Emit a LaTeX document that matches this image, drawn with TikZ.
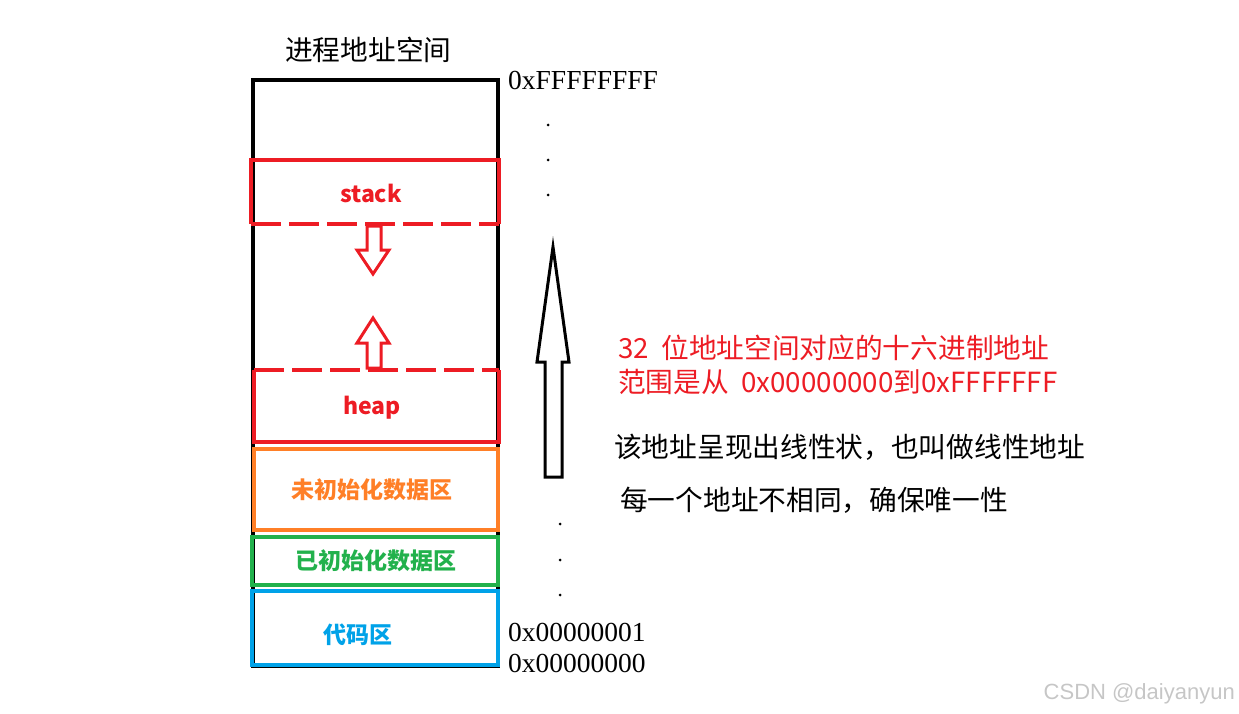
\documentclass[tikz,border=0pt]{standalone}
\usepackage{fontspec}
\setmainfont{Liberation Serif}
\setsansfont{Liberation Sans}
\newfontfamily\cjk{Noto Sans CJK SC}
\usetikzlibrary{positioning}

\definecolor{stackred}{HTML}{ED1C24}
\definecolor{bssorange}{HTML}{FF7F27}
\definecolor{datagreen}{HTML}{22B14C}
\definecolor{codeblue}{HTML}{00A2E8}

\tikzset{
  seg/.style={line width=4.5pt, line join=miter},
  segdash/.style={seg, dash pattern=on 30pt off 8pt},
  lbl/.style={inner sep=0pt, font=\cjk\bfseries\fontsize{23}{27}\selectfont},
  txt/.style={inner sep=0pt, anchor=west, font=\cjk\fontsize{27.7}{34}\selectfont},
  addr/.style={inner sep=0pt, anchor=west, font=\fontsize{27.5}{30}\selectfont},
  blockarrow/.style={line width=3pt, line join=miter},
}

\begin{document}
\begin{tikzpicture}[x=1pt,y=-1pt]
	\useasboundingbox (0,0) rectangle (1239,714);
	% outer address space
	\draw[seg] (253,80) rectangle (498,666);
	\node[txt] (title) at (285,50) {进程地址空间};
	% stack, open at the bottom
	\draw[seg, stackred] (251,224) -- (251,160) -- (499,160) -- (499,224);
	\draw[segdash, stackred] (251,224) -- (499,224);
	\node[lbl, text=stackred] (stack) at (371,193) {stack};
	% heap, open at the top
	\draw[seg, stackred] (254,370) -- (254,442) -- (499,442) -- (499,370);
	\draw[segdash, stackred] (254,370) -- (499,370);
	\node[lbl, text=stackred] (heap) at (372,408) {heap};
	% growth directions
	\draw[blockarrow, stackred] (367,226) -- (381,226) -- (381,250) -- (389,250)
		-- (373,274) -- (357,250) -- (367,250) -- cycle;
	\draw[blockarrow, stackred] (367,368) -- (381,368) -- (381,343) -- (389,343)
		-- (373,318) -- (357,343) -- (367,343) -- cycle;
	% bss, data, text
	\draw[seg, bssorange] (254,449) rectangle (498,530);
	\node[lbl, text=bssorange] (bss) at (372,490) {未初始化数据区};
	\draw[seg, datagreen] (252,537) rectangle (498,585);
	\node[lbl, text=datagreen] (data) at (376,561) {已初始化数据区};
	\draw[seg, codeblue] (252,591) rectangle (498,665);
	\node[lbl, text=codeblue] (text) at (358,635) {代码区};
	% addresses
	\node[addr] (top) at (508,80) {0xFFFFFFFF};
	\node[addr] (one) at (508,632) {0x00000001};
	\node[addr] (zero) at (508,663) {0x00000000};
	\foreach \y in {125,160,195}
		\fill (548,\y) circle (1.5);
	\foreach \y in {524,560,595}
		\fill (560,\y) circle (1.5);
	% linear growth
	\draw[blockarrow] (545,477) -- (562,477) -- (562,362) -- (569,362)
		-- (553,247) -- (537,362) -- (545,362) -- cycle;
	\node[txt, text=stackred, align=left] (range) at (618,365)
		{32\ \ 位地址空间对应的十六进制地址\\范围是从\ \ 0x00000000到0xFFFFFFF};
	\node[txt] (linear) at (614,447) {该地址呈现出线性状，也叫做线性地址};
	\node[txt] (unique) at (620,500) {每一个地址不相同，确保唯一性};
	\node[inner sep=0pt, anchor=east, text=gray!45, font=\sffamily\fontsize{22}{25}\selectfont] (mark) at (1235,694) {CSDN @daiyanyun};
\end{tikzpicture}
\end{document}
